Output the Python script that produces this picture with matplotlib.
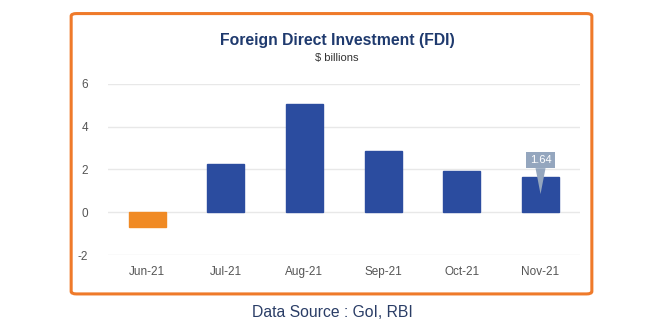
import matplotlib.pyplot as plt
from matplotlib.patches import FancyBboxPatch

plt.rcParams['font.family'] = ['Liberation Sans', 'DejaVu Sans']
plt.rcParams['axes.unicode_minus'] = False

months = ['Jun-21', 'Jul-21', 'Aug-21', 'Sep-21', 'Oct-21', 'Nov-21']
fdi = [-0.7, 2.25, 5.05, 2.85, 1.95, 1.64]
yticks = [-2, 0, 2, 4, 6]

fig = plt.figure(figsize=(6.65, 3.23), dpi=100)
fig.patch.set_facecolor('white')

frame = FancyBboxPatch((0.107, 0.09), 0.783, 0.868, boxstyle='round,pad=0,rounding_size=0.008',
                       transform=fig.transFigure, fill=False, edgecolor='#ef7a2a', linewidth=2.2)
fig.add_artist(frame)

ax = fig.add_axes([0.162, 0.2105, 0.71, 0.5295])
x = range(len(months))
colors = ['#f08a24' if v < 0 else '#2b4c9f' for v in fdi]
ax.bar(x, fdi, width=0.47, color=colors, edgecolor=colors, zorder=3)

ax.set_xlim(-0.5, 5.5)
ax.set_ylim(-2, 6)
ax.set_yticks(yticks)
ax.set_xticks(list(x))
ax.set_xticklabels(months)
ax.grid(axis='y', color='#e8e8e8', linewidth=1, zorder=0)
for s in ax.spines.values():
    s.set_visible(False)
ax.tick_params(length=0, labelsize=8.5, colors='#555555', pad=8)
ax.tick_params(axis='y', pad=14)

# callout on the last bar
ax.annotate(f'{fdi[-1]:.2f}', xy=(5, 0.85), xytext=(5, 2.45),
            ha='center', va='center', fontsize=8, color='white',
            bbox=dict(boxstyle='square,pad=0.3', fc='#94a6be', ec='none'),
            arrowprops=dict(arrowstyle='wedge,tail_width=0.9,shrink_factor=0.5',
                            fc='#94a6be', ec='none', shrinkA=0, shrinkB=0),
            zorder=5)

fig.text(0.507, 0.876, 'Foreign Direct Investment (FDI)', ha='center', va='center',
         fontsize=11.3, fontweight='bold', color='#1f3a6e')
fig.text(0.507, 0.82, '$ billions', ha='center', va='center', fontsize=8, color='#333333')
fig.text(0.5, 0.033, 'Data Source : GoI, RBI', ha='center', va='center',
         fontsize=11.3, color='#2a3d66')

fig.savefig('out.png', dpi=100)
